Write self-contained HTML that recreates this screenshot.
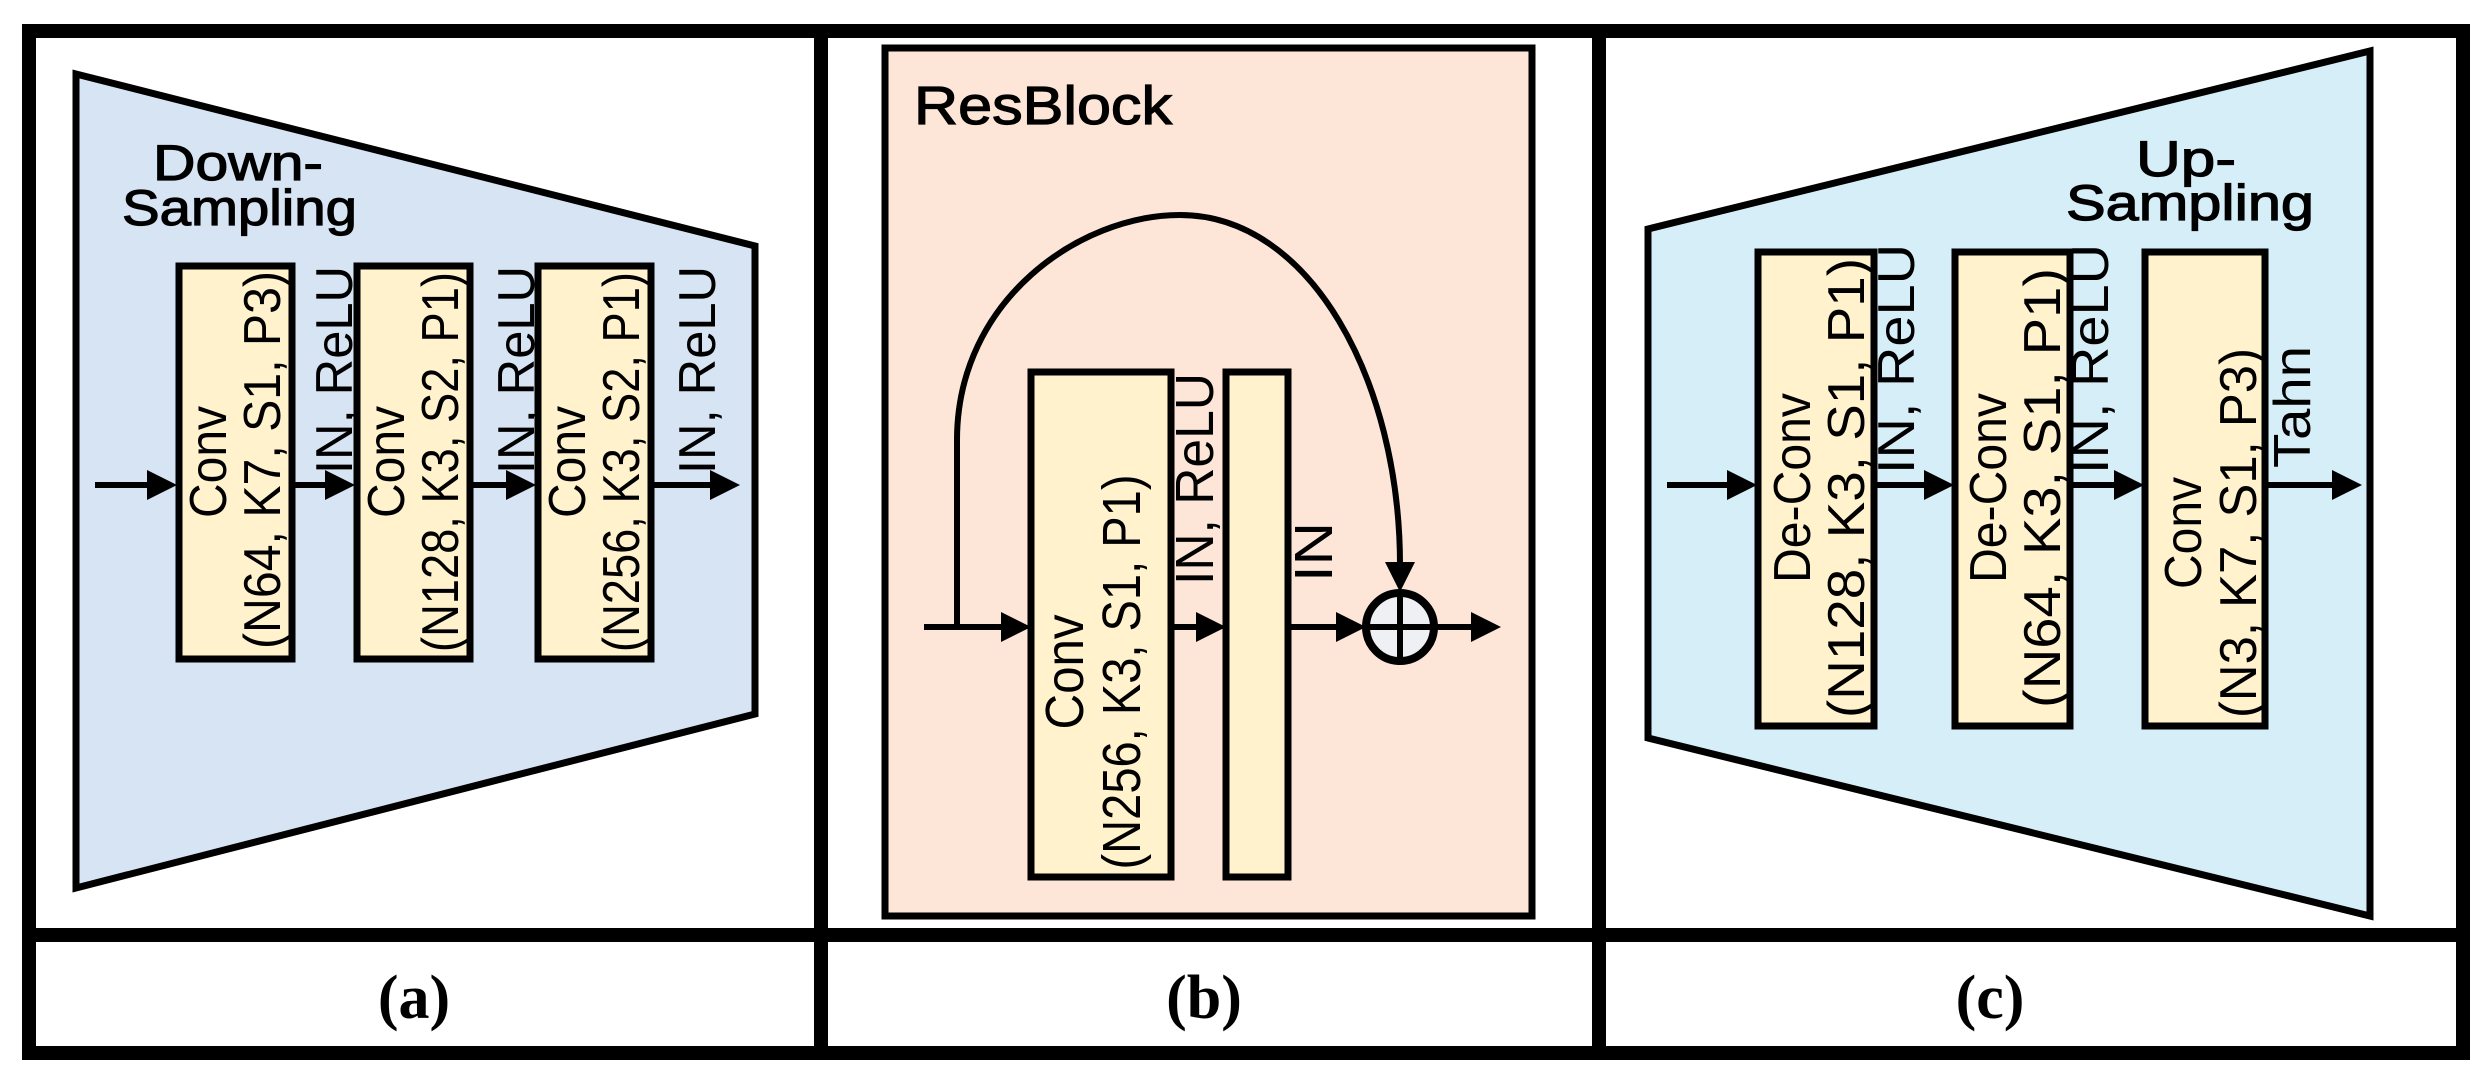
<!DOCTYPE html>
<html><head><meta charset="utf-8"><style>
html,body{margin:0;padding:0;background:#fff;}
svg{display:block;}
text{font-family:"Liberation Sans","DejaVu Sans",sans-serif;fill:#000;}
.s{font-family:"Liberation Serif",serif;font-weight:bold;}
.t{stroke:#000;stroke-width:1.2px;}
</style></head><body>
<svg width="2477" height="1080" viewBox="0 0 2477 1080" xmlns="http://www.w3.org/2000/svg">
<!-- frame -->
<rect x="29" y="31" width="2434" height="1022" fill="#fff" stroke="#000" stroke-width="14"/>
<line x1="821" y1="31" x2="821" y2="1053" stroke="#000" stroke-width="14"/>
<line x1="1599" y1="31" x2="1599" y2="1053" stroke="#000" stroke-width="14"/>
<line x1="29" y1="935" x2="2463" y2="935" stroke="#000" stroke-width="14"/>

<!-- Panel a -->
<polygon points="76,74 755,246 755,714 76,888" fill="#d6e4f4" stroke="#000" stroke-width="7"/>
<text class="t" x="153" y="180" font-size="50" textLength="170" lengthAdjust="spacingAndGlyphs">Down-</text>
<text class="t" x="122" y="225" font-size="50" textLength="235" lengthAdjust="spacingAndGlyphs">Sampling</text>
<g fill="#fff2cc" stroke="#000" stroke-width="7">
<rect x="179" y="266" width="113" height="393"/>
<rect x="357" y="266" width="113" height="393"/>
<rect x="538" y="266" width="113" height="393"/>
</g>
<g stroke="#000" stroke-width="6">
<line x1="95" y1="485" x2="160" y2="485"/>
<line x1="292" y1="485" x2="340" y2="485"/>
<line x1="470" y1="485" x2="520" y2="485"/>
<line x1="651" y1="485" x2="720" y2="485"/>
</g>
<g fill="#000">
<polygon points="177,485 147,470 147,500"/>
<polygon points="355,485 325,470 325,500"/>
<polygon points="536,485 506,470 506,500"/>
<polygon points="740,485 710,470 710,500"/>
</g>
<g font-size="52">
<text transform="translate(226,462) rotate(-90)" text-anchor="middle" textLength="112" lengthAdjust="spacingAndGlyphs">Conv</text>
<text transform="translate(280,460) rotate(-90)" text-anchor="middle" textLength="378" lengthAdjust="spacingAndGlyphs">(N64, K7, S1, P3)</text>
<text transform="translate(404,462) rotate(-90)" text-anchor="middle" textLength="112" lengthAdjust="spacingAndGlyphs">Conv</text>
<text transform="translate(458,462) rotate(-90)" text-anchor="middle" textLength="380" lengthAdjust="spacingAndGlyphs">(N128, K3, S2, P1)</text>
<text transform="translate(585,462) rotate(-90)" text-anchor="middle" textLength="112" lengthAdjust="spacingAndGlyphs">Conv</text>
<text transform="translate(639,462) rotate(-90)" text-anchor="middle" textLength="380" lengthAdjust="spacingAndGlyphs">(N256, K3, S2, P1)</text>
<text transform="translate(352,474) rotate(-90)" textLength="208" lengthAdjust="spacingAndGlyphs">IN, ReLU</text>
<text transform="translate(534,474) rotate(-90)" textLength="208" lengthAdjust="spacingAndGlyphs">IN, ReLU</text>
<text transform="translate(715,474) rotate(-90)" textLength="208" lengthAdjust="spacingAndGlyphs">IN, ReLU</text>
</g>

<!-- Panel b -->
<rect x="885" y="48" width="647" height="868" fill="#fde6d8" stroke="#000" stroke-width="7"/>
<text class="t" x="914" y="124" font-size="54" textLength="258" lengthAdjust="spacingAndGlyphs">ResBlock</text>
<rect x="1031" y="372" width="140" height="505" fill="#fff2cc" stroke="#000" stroke-width="7"/>
<rect x="1226" y="372" width="62" height="505" fill="#fff2cc" stroke="#000" stroke-width="7"/>
<g stroke="#000" stroke-width="6" fill="none">
<line x1="924" y1="627" x2="1010" y2="627"/>
<line x1="1171" y1="627" x2="1206" y2="627"/>
<line x1="1288" y1="627" x2="1345" y2="627"/>
<line x1="1436" y1="627" x2="1480" y2="627"/>
<path d="M957,630 L957,440 C957,300 1080,215 1180,215 C1310,215 1400,380 1400,565"/>
</g>
<g fill="#000">
<polygon points="1031,627 1001,612 1001,642"/>
<polygon points="1226,627 1196,612 1196,642"/>
<polygon points="1366,627 1336,612 1336,642"/>
<polygon points="1501,627 1471,612 1471,642"/>
<polygon points="1400,592 1385,562 1415,562"/>
</g>
<circle cx="1400" cy="627" r="34" fill="#eef0f4" stroke="#000" stroke-width="8"/>
<line x1="1366" y1="627" x2="1434" y2="627" stroke="#000" stroke-width="6"/>
<line x1="1400" y1="593" x2="1400" y2="661" stroke="#000" stroke-width="6"/>
<g font-size="54">
<text transform="translate(1083,672) rotate(-90)" text-anchor="middle" textLength="115" lengthAdjust="spacingAndGlyphs">Conv</text>
<text transform="translate(1140,672) rotate(-90)" text-anchor="middle" textLength="395" lengthAdjust="spacingAndGlyphs">(N256, K3, S1, P1)</text>
<text transform="translate(1213,585) rotate(-90)" textLength="212" lengthAdjust="spacingAndGlyphs">IN, ReLU</text>
<text transform="translate(1332,582) rotate(-90)" textLength="60" lengthAdjust="spacingAndGlyphs">IN</text>
</g>

<!-- Panel c -->
<polygon points="1648,229 2370,51 2370,916 1648,738" fill="#d6eef7" stroke="#000" stroke-width="7"/>
<text class="t" x="2136" y="176" font-size="50" textLength="100" lengthAdjust="spacingAndGlyphs">Up-</text>
<text class="t" x="2066" y="220" font-size="50" textLength="248" lengthAdjust="spacingAndGlyphs">Sampling</text>
<g fill="#fff2cc" stroke="#000" stroke-width="7">
<rect x="1758" y="252" width="116" height="474"/>
<rect x="1955" y="252" width="115" height="474"/>
<rect x="2145" y="252" width="120" height="474"/>
</g>
<g stroke="#000" stroke-width="6">
<line x1="1667" y1="485" x2="1740" y2="485"/>
<line x1="1874" y1="485" x2="1936" y2="485"/>
<line x1="2070" y1="485" x2="2126" y2="485"/>
<line x1="2265" y1="485" x2="2342" y2="485"/>
</g>
<g fill="#000">
<polygon points="1757,485 1727,470 1727,500"/>
<polygon points="1954,485 1924,470 1924,500"/>
<polygon points="2144,485 2114,470 2114,500"/>
<polygon points="2362,485 2332,470 2332,500"/>
</g>
<g font-size="52">
<text transform="translate(1810,488) rotate(-90)" text-anchor="middle" textLength="190" lengthAdjust="spacingAndGlyphs">De-Conv</text>
<text transform="translate(1864,488) rotate(-90)" text-anchor="middle" textLength="460" lengthAdjust="spacingAndGlyphs">(N128, K3, S1, P1)</text>
<text transform="translate(2006,488) rotate(-90)" text-anchor="middle" textLength="190" lengthAdjust="spacingAndGlyphs">De-Conv</text>
<text transform="translate(2060,488) rotate(-90)" text-anchor="middle" textLength="440" lengthAdjust="spacingAndGlyphs">(N64, K3, S1, P1)</text>
<text transform="translate(2201,533) rotate(-90)" text-anchor="middle" textLength="112" lengthAdjust="spacingAndGlyphs">Conv</text>
<text transform="translate(2256,533) rotate(-90)" text-anchor="middle" textLength="370" lengthAdjust="spacingAndGlyphs">(N3, K7, S1, P3)</text>
<text transform="translate(1914,474) rotate(-90)" textLength="230" lengthAdjust="spacingAndGlyphs">IN, ReLU</text>
<text transform="translate(2108,474) rotate(-90)" textLength="230" lengthAdjust="spacingAndGlyphs">IN, ReLU</text>
<text transform="translate(2310,468) rotate(-90)" textLength="122" lengthAdjust="spacingAndGlyphs">Tahn</text>
</g>

<!-- captions -->
<g font-size="62" text-anchor="middle">
<text class="s" x="414" y="1018">(a)</text>
<text class="s" x="1204" y="1018">(b)</text>
<text class="s" x="1990" y="1018">(c)</text>
</g>
</svg>
</body></html>
